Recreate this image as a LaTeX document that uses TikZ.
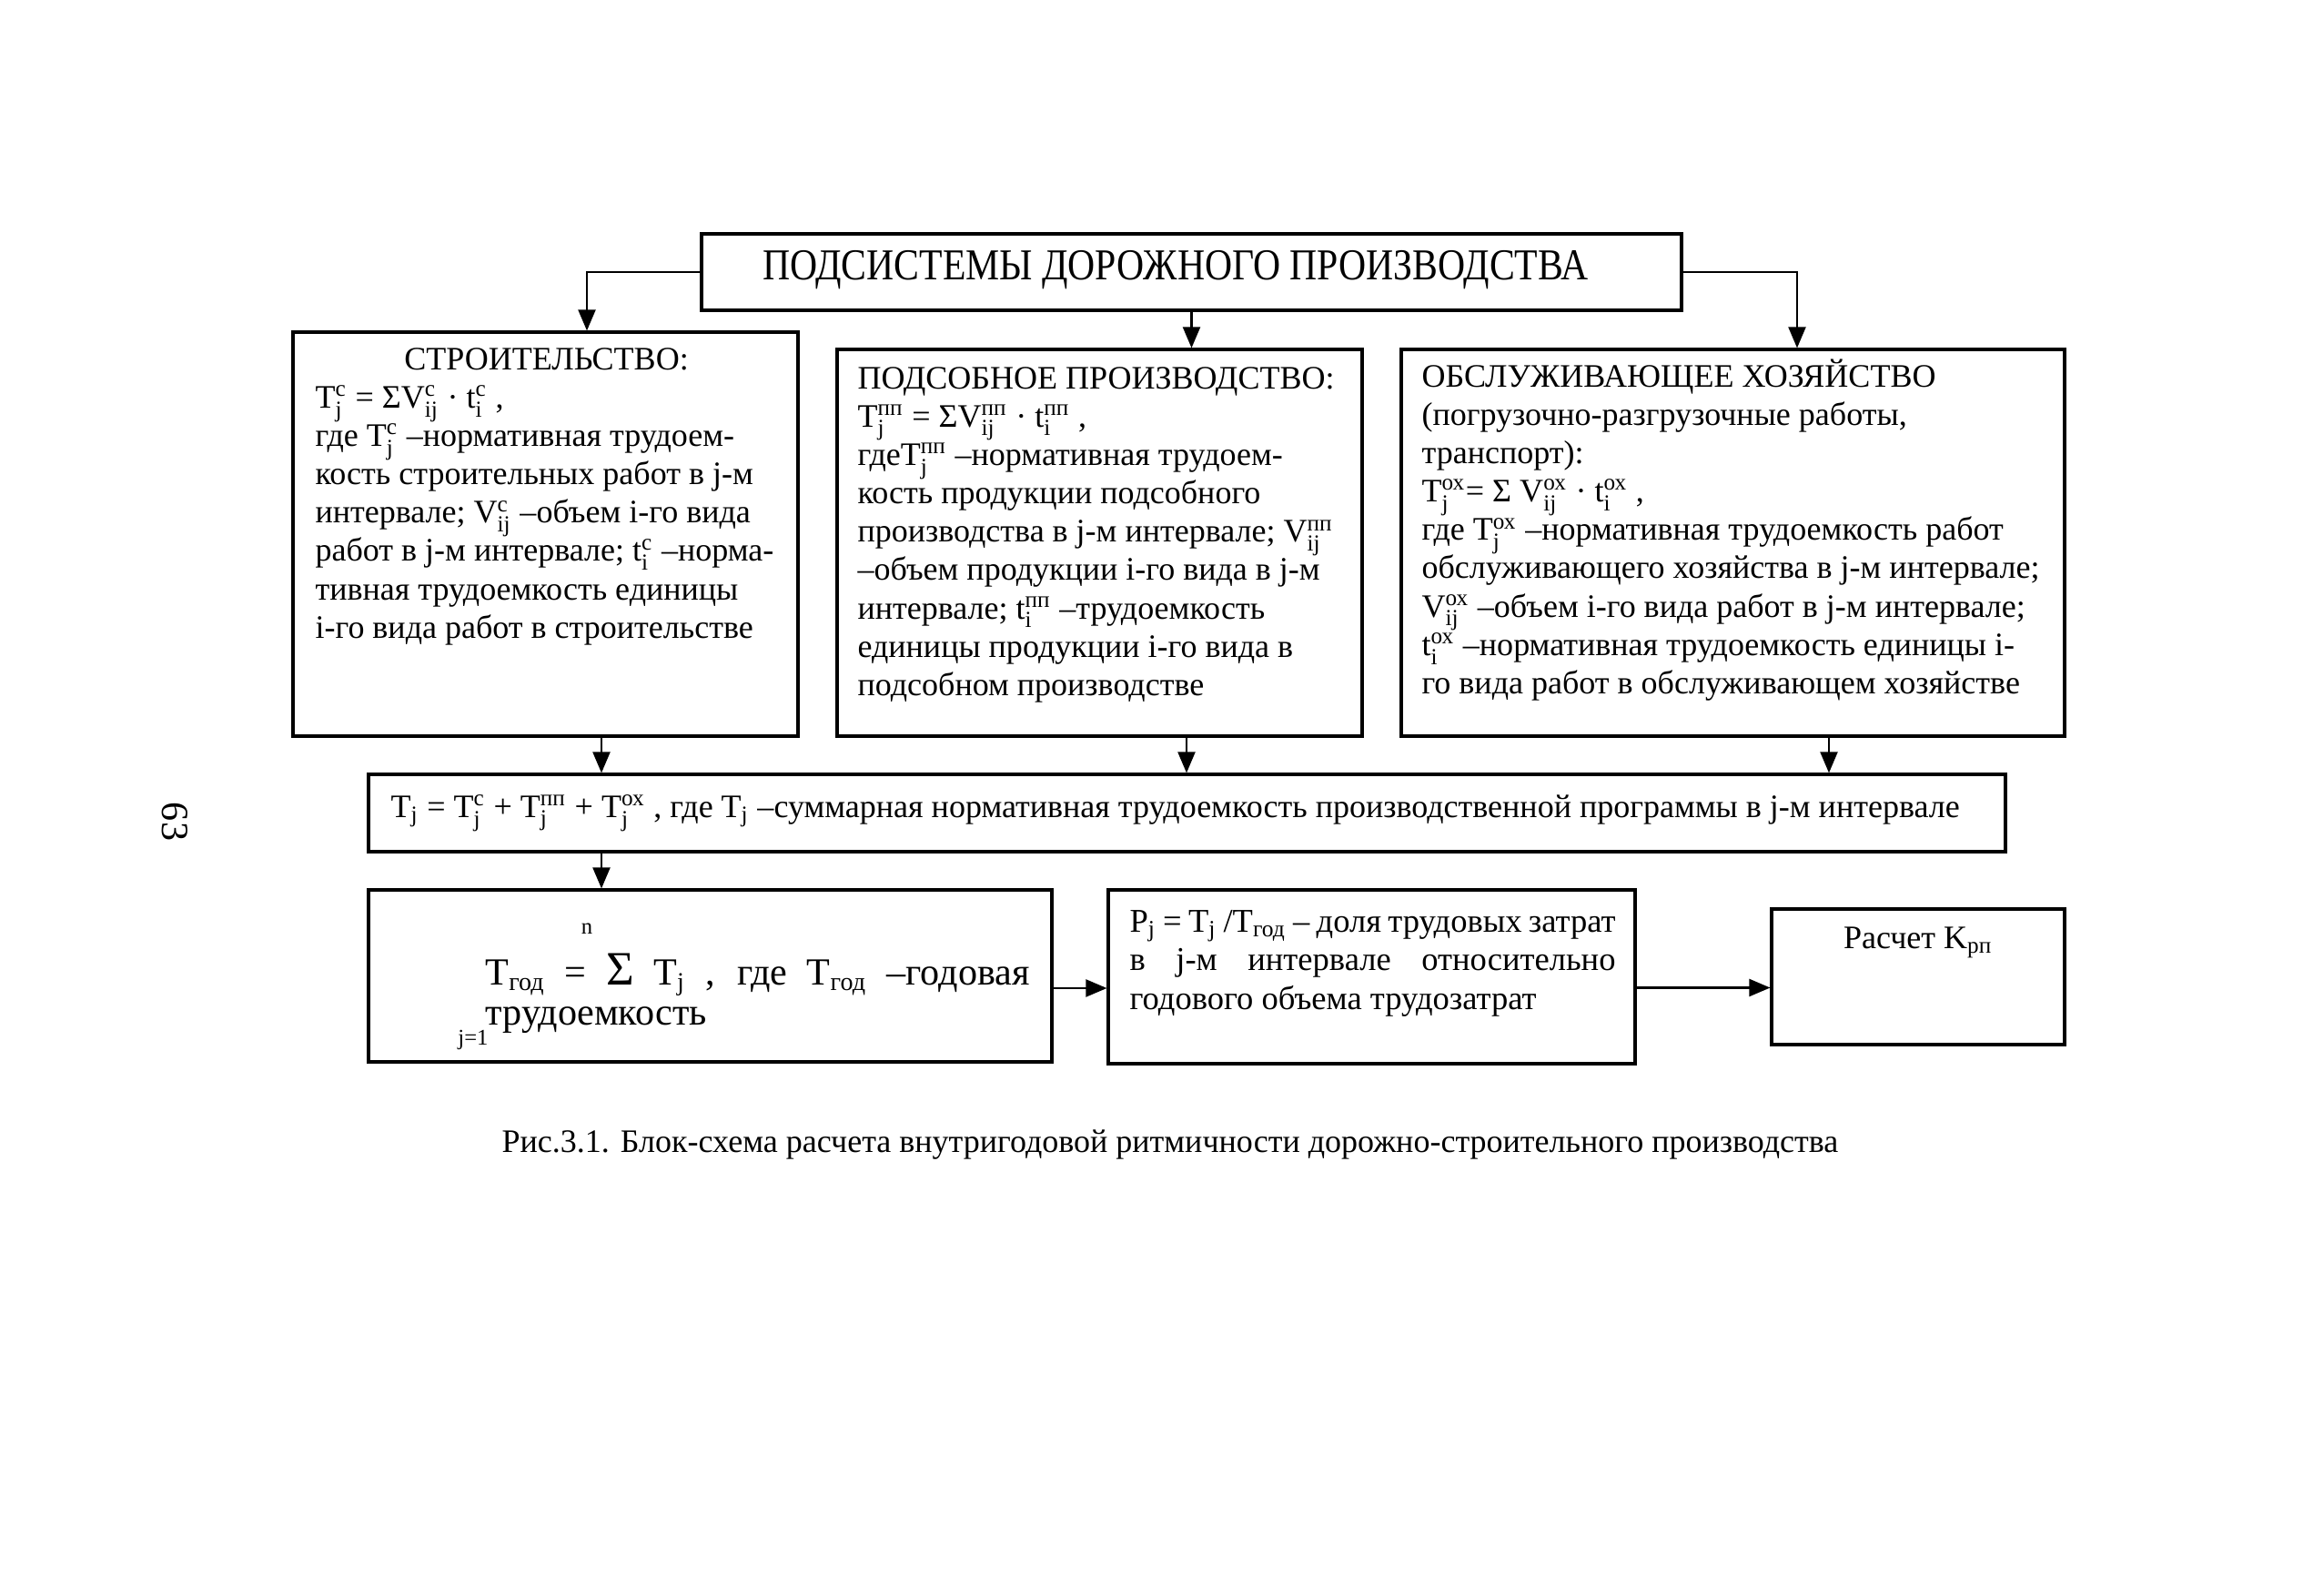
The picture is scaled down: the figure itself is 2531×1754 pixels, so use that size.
\documentclass[tikz,border=0pt]{standalone}
\usepackage{fontspec}
\setmainfont{Liberation Serif}
\newfontfamily\headfont[FakeStretch=0.86]{Liberation Serif}
\usepackage{amsmath}
\usetikzlibrary{arrows.meta,positioning,calc}

\newcommand{\ix}[2]{\ensuremath{_{\text{#1}}^{\text{#2}}}}
\newcommand{\sub}[1]{\ensuremath{_{\text{#1}}}}

\begin{document}
\begin{tikzpicture}[x=0.1mm,y=-0.1mm,>={Triangle[length=2.3mm,width=1.9mm]},
                    line width=0.9pt,
                    box/.style={draw,inner sep=0pt},
                    body/.style={inner sep=0pt,align=left,font=\fontsize{10.25}{12}\selectfont},
                    link/.style={->,line width=0.6pt}]
  \useasboundingbox (0,0) rectangle (2531,1754);
  % boxes
  \node[box,minimum width=107.7mm,minimum height=8.4mm] (head) at (1309.5,299) {};
  \node[box,minimum width=55.5mm,minimum height=44.4mm] (stroi) at (599.5,587) {};
  \node[box,minimum width=57.7mm,minimum height=42.5mm] (podsob) at (1208.5,596.5) {};
  \node[box,minimum width=72.9mm,minimum height=42.5mm] (obsl) at (1904.5,596.5) {};
  \node[box,minimum width=179.9mm,minimum height=8.5mm] (summa) at (1304.5,893.5) {};
  \node[box,minimum width=75.1mm,minimum height=18.9mm] (god) at (780.5,1072.5) {};
  \node[box,minimum width=57.9mm,minimum height=19.1mm] (dolya) at (1507.5,1073.5) {};
  \node[box,minimum width=32.2mm,minimum height=14.9mm] (raschet) at (2108,1073.5) {};
  % texts
  \node[inner sep=0pt,font=\headfont\fontsize{13.8}{15}\selectfont] (headtxt) at (1292,297) {ПОДСИСТЕМЫ ДОРОЖНОГО ПРОИЗВОДСТВА};
  \node[body,anchor=north west] (stroitxt) at (345,375)
       {\makebox[50.8mm]{\strut СТРОИТЕЛЬСТВО:}\\
        T\ix{j}{с} = ΣV\ix{ij}{с} · t\ix{i}{с} ,\\
        где T\ix{j}{с} –нормативная трудоем-\\
        кость строительных работ в j-м\\
        интервале; V\ix{ij}{с} –объем i-го вида\\
        работ в j-м интервале; t\ix{i}{с} –норма-\\
        тивная трудоемкость единицы\\
        i-го вида работ в строительстве};
  \node[body,anchor=north west] (podsobtxt) at (941,396)
       {\strut ПОДСОБНОЕ ПРОИЗВОДСТВО:\\
        T\ix{j}{пп} = ΣV\ix{ij}{пп} · t\ix{i}{пп} ,\\
        гдеT\ix{j}{пп} –нормативная трудоем-\\
        кость продукции подсобного\\
        производства в j-м интервале; V\ix{ij}{пп}\\
        –объем продукции i-го вида в j-м\\
        интервале; t\ix{i}{пп} –трудоемкость\\
        единицы продукции i-го вида в\\
        подсобном производстве};
  \node[body,anchor=north west] (obsltxt) at (1561,393)
       {\strut ОБСЛУЖИВАЮЩЕЕ ХОЗЯЙСТВО\\
        (погрузочно-разгрузочные работы,\\
        транспорт):\\
        T\ix{j}{ох}= Σ V\ix{ij}{ох} · t\ix{i}{ох} ,\\
        где T\ix{j}{ох} –нормативная трудоемкость работ\\
        обслуживающего хозяйства в j-м интервале;\\
        V\ix{ij}{ох} –объем i-го вида работ в j-м интервале;\\
        t\ix{i}{ох} –нормативная трудоемкость единицы i-\\
        го вида работ в обслуживающем хозяйстве};
  \node[body,anchor=west] (summatxt) at (428,893.5)
       {T\sub{j} = T\ix{j}{с} + T\ix{j}{пп} + T\ix{j}{ох} , где T\sub{j} –суммарная нормативная трудоемкость производственной программы в j-м интервале};
  \node[inner sep=0pt,anchor=north west,text width=59.8mm,align=justify,
        font=\fontsize{12}{12.6}\selectfont] (godtxt) at (532,1046)
       {\strut T\sub{год} = {\fontsize{15}{15}\selectfont Σ} T\sub{j} , где T\sub{год} –годовая\linebreak трудоемкость};
  \node[inner sep=0pt,font=\fontsize{7}{8}\selectfont] (nup) at (645,1021) {n};
  \node[inner sep=0pt,font=\fontsize{7}{8}\selectfont] (jlow) at (520,1143) {j=1};
  \node[inner sep=0pt,anchor=north west,text width=53.4mm,align=justify,
        font=\fontsize{10.4}{12.1}\selectfont] (dolyatxt) at (1240,993)
       {\strut P\sub{j} = T\sub{j} /T\sub{год} – доля трудовых затрат\linebreak
        в j-м интервале относительно\linebreak годового объема трудозатрат};
  \node[body] (raschettxt) at (2108,1036) {Расчет K\sub{рп}};
  \node[body] (caption) at (1286,1258) {Рис.3.1. Блок-схема расчета внутригодовой ритмичности дорожно-строительного производства};
  \node[body,rotate=-90,font=\fontsize{12}{14}\selectfont] (pageno) at (192,903) {63};
  % connectors
  \draw[link] (head.west) -| ([xshift=4.55mm]stroi.north);
  \draw[link] (head.east) -| ([xshift=7.05mm]obsl.north);
  \draw[link] (head.south) -- (head.south |- podsob.north);
  \draw[link] ([xshift=6.15mm]stroi.south) -- ([xshift=6.15mm]stroi.south |- summa.north);
  \draw[link] ([xshift=9.55mm]podsob.south) -- ([xshift=9.55mm]podsob.south |- summa.north);
  \draw[link] ([xshift=10.55mm]obsl.south) -- ([xshift=10.55mm]obsl.south |- summa.north);
  \draw[link] ([xshift=-11.95mm]god.north |- summa.south) -- ([xshift=-11.95mm]god.north);
  \draw[link] ([yshift=-1.35mm]god.east) -- ([yshift=-1.35mm]god.east -| dolya.west);
  \draw[link] ([yshift=-1.2mm]dolya.east) -- ([yshift=-1.2mm]dolya.east -| raschet.west);
\end{tikzpicture}
\end{document}
